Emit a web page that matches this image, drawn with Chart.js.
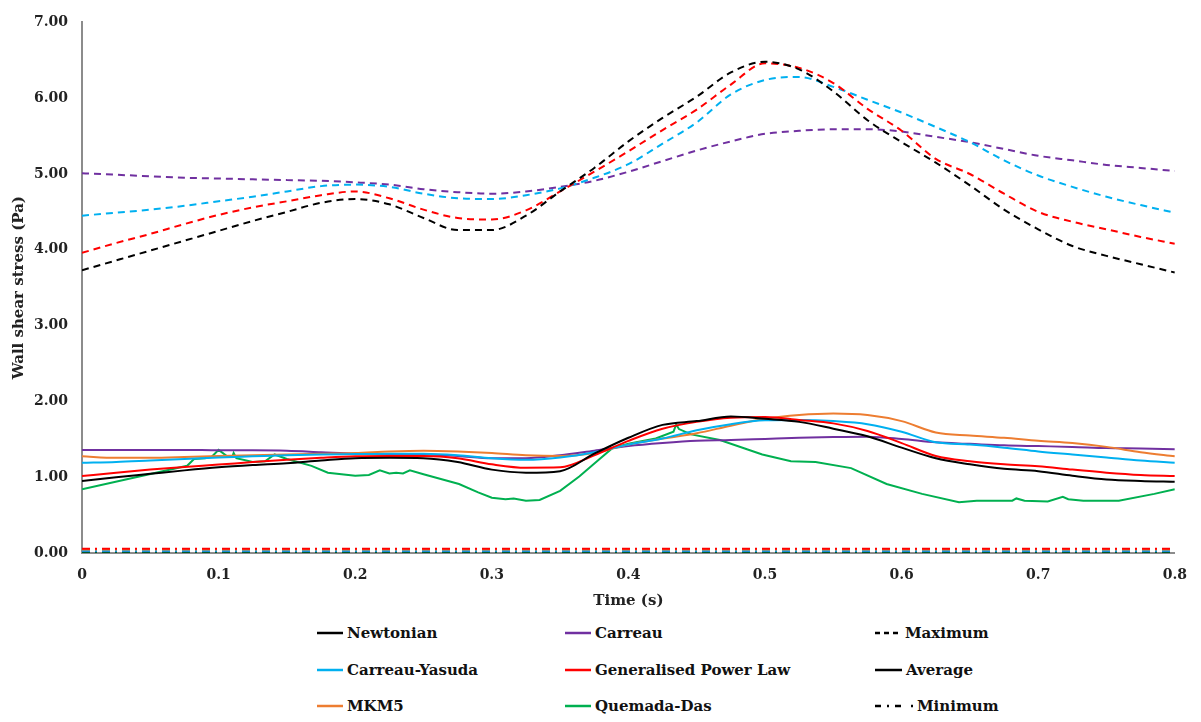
<!DOCTYPE html>
<html><head><meta charset="utf-8">
<script src="https://cdn.jsdelivr.net/npm/chart.js@4.4.1/dist/chart.umd.min.js"></script>
<style>
body{margin:0;background:#fff;width:1201px;height:722px;overflow:hidden;position:relative;font-family:"DejaVu Serif",serif;font-weight:bold;}
#c{position:absolute;left:0;top:0;}
.lg{position:absolute;height:20px;line-height:20px;font-size:15px;color:#111;white-space:nowrap;display:flex;align-items:center;}
.lg svg{margin-right:4px;flex:none}
</style></head><body>
<canvas id="c" width="1201" height="615"></canvas>
<div id="legend"></div>
<script>
// ---------- data ----------
const time = [0,0.025,0.05,0.075,0.1,0.125,0.15,0.175,0.2,0.225,0.25,0.275,0.3,0.325,0.35,0.375,0.4,0.425,0.45,0.475,0.5,0.525,0.55,0.575,0.6,0.625,0.65,0.675,0.7,0.725,0.75,0.775,0.8];

const newtonianMax = [3.73,3.86,3.99,4.12,4.25,4.38,4.50,4.62,4.67,4.60,4.42,4.26,4.26,4.45,4.77,5.08,5.43,5.74,6.02,6.34,6.48,6.38,6.09,5.71,5.42,5.15,4.85,4.53,4.27,4.05,3.92,3.81,3.70];
const gplMax       = [3.96,4.09,4.21,4.34,4.46,4.56,4.64,4.72,4.77,4.68,4.53,4.42,4.40,4.52,4.77,5.03,5.30,5.58,5.85,6.18,6.46,6.40,6.20,5.86,5.57,5.20,5.00,4.74,4.50,4.37,4.27,4.17,4.08];
const cyMax        = [4.45,4.49,4.53,4.58,4.64,4.70,4.77,4.84,4.86,4.83,4.74,4.68,4.67,4.72,4.81,4.95,5.13,5.40,5.68,6.05,6.24,6.28,6.15,5.98,5.81,5.62,5.42,5.18,4.98,4.83,4.70,4.59,4.49];
const carreauMax   = [5.01,4.99,4.97,4.95,4.94,4.93,4.92,4.91,4.89,4.86,4.80,4.76,4.74,4.77,4.83,4.91,5.03,5.17,5.31,5.43,5.53,5.57,5.59,5.59,5.56,5.49,5.42,5.33,5.24,5.18,5.12,5.08,5.04];

const newtonianAvg = [0.95,1.00,1.045,1.09,1.13,1.16,1.185,1.22,1.25,1.255,1.25,1.20,1.10,1.06,1.08,1.31,1.52,1.69,1.74,1.80,1.77,1.73,1.64,1.54,1.39,1.25,1.17,1.11,1.08,1.02,0.97,0.95,0.94];
const carreauAvg   = [1.36,1.36,1.36,1.36,1.355,1.355,1.35,1.33,1.31,1.30,1.30,1.28,1.25,1.25,1.29,1.35,1.41,1.45,1.48,1.49,1.505,1.52,1.53,1.535,1.505,1.46,1.44,1.42,1.41,1.40,1.385,1.38,1.37];
const cyAvg        = [1.19,1.20,1.22,1.24,1.26,1.275,1.29,1.30,1.305,1.31,1.31,1.29,1.25,1.23,1.26,1.33,1.43,1.51,1.62,1.70,1.75,1.755,1.74,1.70,1.60,1.46,1.43,1.39,1.34,1.30,1.26,1.22,1.19];
const gplAvg       = [1.015,1.06,1.10,1.135,1.166,1.20,1.23,1.255,1.275,1.28,1.28,1.25,1.17,1.125,1.13,1.29,1.48,1.64,1.73,1.785,1.795,1.755,1.71,1.61,1.45,1.28,1.21,1.17,1.145,1.10,1.06,1.03,1.015];
const mkm5Avg      = [1.275,1.255,1.255,1.265,1.28,1.29,1.30,1.31,1.32,1.34,1.35,1.34,1.32,1.29,1.28,1.32,1.43,1.51,1.58,1.68,1.77,1.82,1.84,1.82,1.74,1.59,1.55,1.52,1.48,1.45,1.40,1.33,1.275];

const qdTime = [0,0.077,0.082,0.09,0.095,0.1,0.106,0.11,0.111,0.113,0.125,0.134,0.141,0.15,0.168,0.18,0.2,0.21,0.218,0.225,0.23,0.235,0.24,0.25,0.26,0.276,0.29,0.3,0.31,0.316,0.325,0.335,0.35,0.364,0.377,0.388,0.4,0.42,0.433,0.435,0.437,0.446,0.467,0.498,0.519,0.537,0.563,0.589,0.615,0.642,0.655,0.681,0.684,0.69,0.707,0.718,0.722,0.733,0.759,0.785,0.8];
const qdAvg  = [0.84,1.15,1.24,1.25,1.27,1.36,1.28,1.27,1.32,1.25,1.20,1.21,1.30,1.24,1.15,1.06,1.02,1.03,1.09,1.05,1.06,1.05,1.09,1.04,0.99,0.91,0.80,0.73,0.71,0.72,0.69,0.70,0.82,1.01,1.21,1.38,1.44,1.51,1.60,1.695,1.635,1.565,1.49,1.30,1.21,1.20,1.12,0.91,0.78,0.67,0.69,0.69,0.72,0.69,0.68,0.74,0.71,0.69,0.69,0.78,0.84];

const minTime = [0,0.8];
const newtonianMin = [0.02,0.02];
const carreauMin   = [0.025,0.025];
const cyMin        = [0.03,0.03];
const gplMin       = [0.055,0.055];
const mkm5Min      = [0.045,0.045];
const qdMin        = [0.01,0.01];

const xTickLabels = ['0','0.1','0.2','0.3','0.4','0.5','0.6','0.7','0.8'];
const yTickLabels = ['0.00','1.00','2.00','3.00','4.00','5.00','6.00','7.00'];

const seriesNames = ['Newtonian','Carreau','Carreau-Yasuda','Generalised Power Law','MKM5','Quemada-Das'];
const styleNames  = ['Maximum','Average','Minimum'];

// ---------- styles ----------
const COL = {Newtonian:'#000000', Carreau:'#7030A0', 'Carreau-Yasuda':'#00B0F0', 'Generalised Power Law':'#FF0000', MKM5:'#ED7D31', 'Quemada-Das':'#00B050'};
const pts = (xs, ys) => xs.map((x,i)=>({x:x, y:ys[i]}));
const FONT = 'DejaVu Serif';

const datasets = [];
function add(name, xs, ys, kind, extra){
  const ds = {label:name+' '+kind, data:pts(xs,ys), borderColor:COL[name], backgroundColor:COL[name],
    borderWidth:2, pointRadius:0, fill:false, cubicInterpolationMode:'monotone'};
  if(kind==='max') ds.borderDash=[7,5];
  if(kind==='min') ds.borderDash=[8,5,2,5];
  Object.assign(ds, extra||{});
  datasets.push(ds);
}
add('Newtonian', time, newtonianAvg, 'avg');
add('Generalised Power Law', time, gplAvg, 'avg');
add('Carreau-Yasuda', time, cyAvg, 'avg');
add('MKM5', time, mkm5Avg, 'avg');
add('Carreau', time, carreauAvg, 'avg');
add('Quemada-Das', qdTime, qdAvg, 'avg', {cubicInterpolationMode:'default', tension:0});
add('Newtonian', time, newtonianMax, 'max');
add('Generalised Power Law', time, gplMax, 'max');
add('Carreau-Yasuda', time, cyMax, 'max');
add('Carreau', time, carreauMax, 'max');
add('Generalised Power Law', minTime, gplMin, 'min');
add('MKM5', minTime, mkm5Min, 'min');
add('Carreau-Yasuda', minTime, cyMin, 'min');
add('Carreau', minTime, carreauMin, 'min');
add('Newtonian', minTime, newtonianMin, 'min');
add('Quemada-Das', minTime, qdMin, 'min');

const tickFont = {family:FONT, weight:'bold', size:14};
const titleFont = {family:FONT, weight:'bold', size:15};

new Chart(document.getElementById('c'), {
  type:'line',
  data:{datasets},
  options:{
    responsive:false, animation:false, devicePixelRatio:1,
    layout:{padding:{left:0,right:25,top:15,bottom:0}},
    plugins:{legend:{display:false}, tooltip:{enabled:false}},
    scales:{
      x:{type:'linear', min:0, max:0.8,
        afterFit(s){s.height=62;},
        grid:{display:false, drawTicks:false},
        border:{display:true, color:'#8c8c8c', width:2},
        ticks:{stepSize:0.1, padding:14, color:'#222', font:tickFont, maxRotation:0,
          callback:v=>xTickLabels[Math.round(v*10)]},
        title:{display:true, text:'Time (s)', color:'#222', font:titleFont, padding:{top:0,bottom:5}}
      },
      y:{type:'linear', min:0, max:7,
        afterFit(s){s.width=82;},
        grid:{display:false, drawTicks:false},
        border:{display:true, color:'#8c8c8c', width:2},
        ticks:{stepSize:1, padding:14, color:'#222', font:tickFont,
          callback:v=>yTickLabels[Math.round(v)]},
        title:{display:true, text:'Wall shear stress (Pa)', color:'#222', font:titleFont, padding:{top:10,bottom:0}}
      }
    }
  }
});

// ---------- HTML legend ----------
const lg = document.getElementById('legend');
const rowsY = [633,670,706];
const colX = [317,565];
function svgLine(color, dash, w){
  return `<svg width="${w}" height="6"><line x1="0" y1="3" x2="${w}" y2="3" stroke="${color}" stroke-width="2.5" ${dash?`stroke-dasharray="${dash}"`:''}/></svg>`;
}
seriesNames.forEach((n,i)=>{
  const d = document.createElement('div');
  d.className='lg';
  d.style.left = colX[i%2]+'px';
  d.style.top = (rowsY[Math.floor(i/2)]-10)+'px';
  d.innerHTML = svgLine(COL[n], null, 26)+'<span>'+n+'</span>';
  lg.appendChild(d);
});
const styleDash = ['5,4', null, '6,6,2,6,6,10'];
const styleW = [26, 27, 38];
styleNames.forEach((n,i)=>{
  const d = document.createElement('div');
  d.className='lg';
  d.style.left = '875px';
  d.style.top = (rowsY[i]-10)+'px';
  d.innerHTML = svgLine('#000', styleDash[i], styleW[i])+'<span>'+n+'</span>';
  lg.appendChild(d);
});
</script>
</body></html>
